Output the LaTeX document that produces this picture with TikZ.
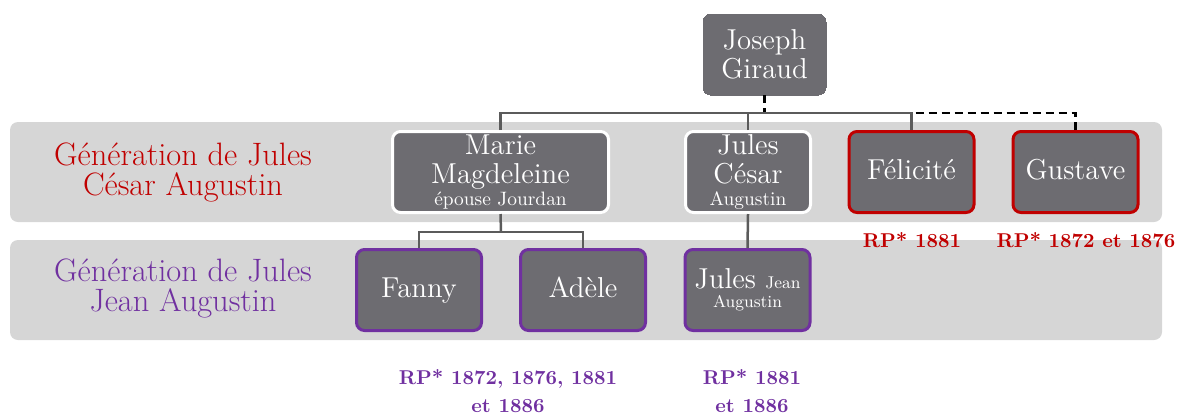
\documentclass[tikz,border=0pt]{standalone}
\usepackage{amsmath}
\usepackage{tikz}

\definecolor{boxgray}{HTML}{6D6C71}
\definecolor{bandgray}{HTML}{D6D6D6}
\definecolor{genred}{HTML}{C00000}
\definecolor{genpurple}{HTML}{7030A0}
\definecolor{linkgray}{HTML}{5B5B5B}

\begin{document}
\begin{tikzpicture}[x=0.5pt,y=-0.5pt,
	person/.style={rectangle, rounded corners=4pt, fill=boxgray, draw=white, line width=1.5pt,
		minimum width=62.5pt, minimum height=40.5pt, inner sep=1pt, align=center, text=white,
		font=\fontsize{14.4}{14.5}\selectfont},
	sibling/.style={person, draw=genred, text height=10pt, text depth=3pt},
	child/.style={person, draw=genpurple},
	oneline/.style={text height=10pt, text depth=3pt},
	gen/.style={align=center, font=\fontsize{16.2}{15}\selectfont},
	rp/.style={align=center, font=\bfseries\fontsize{10}{14}\selectfont},
	link/.style={draw=linkgray, line width=1.25pt},
	maybe/.style={draw=black, line width=1.1pt, dash pattern=on 4pt off 2.5pt}]

	\useasboundingbox (0,0) rectangle (1181,414);

	% Bands
	\fill [bandgray, rounded corners=4pt] (10,122) rectangle (1162,222);
	\fill [bandgray, rounded corners=4pt] (10,240) rectangle (1162,340);
	\node [gen, text=genred] (genjc) at (183,172) {G\'en\'eration de Jules\\C\'esar Augustin};
	\node [gen, text=genpurple] (genjj) at (183,288) {G\'en\'eration de Jules\\Jean Augustin};

	% Persons
	\node [person, draw=boxgray, minimum width=61.5pt, line width=0pt] (joseph) at (764.5,54.5) {Joseph\\Giraud};
	\node [person, minimum width=108pt] (marie) at (500.5,172) {Marie\\Magdeleine\\[-3.5pt]{\fontsize{9.7}{10}\selectfont \'epouse Jourdan}};
	\node [person] (jcesar) at (748,172) {Jules\\C\'esar\\[-3.5pt]{\fontsize{9.7}{10}\selectfont Augustin}};
	\node [sibling] (felicite) at (911.5,172) {F\'elicit\'e};
	\node [sibling] (gustave) at (1075.5,172) {Gustave};
	\node [child, oneline] (fanny) at (419,290) {Fanny};
	\node [child, oneline] (adele) at (583,290) {Ad\`ele};
	\node [child] (jjean) at (747.5,290) {Jules {\fontsize{8.5}{10}\selectfont Jean}\\[-5pt]{\fontsize{8.5}{10}\selectfont Augustin}};

	% Links
	\coordinate (top) at (764.5,113);
	\coordinate (mid) at (501,232);
	\draw [maybe] (joseph.south) -- (top) -| (gustave.north);
	\draw [link] (marie.north) |- (top) -| (felicite.north);
	\draw [link] (jcesar.north) -- (jcesar.north |- top);
	\draw [link] (marie.south) -- (mid);
	\draw [link] (fanny.north) |- (mid) -| (adele.north);
	\draw [link] (jcesar.south) -- (jjean.north);

	% Census
	\node [rp, text=genred] (rpfel) at (912,240) {RP* 1881};
	\node [rp, text=genred] (rpgus) at (1086,240) {RP* 1872 et 1876};
	\node [rp, text=genpurple] (rpfan) at (508,391) {RP* 1872, 1876, 1881\\et 1886};
	\node [rp, text=genpurple] (rpjj) at (752,391) {RP* 1881\\et 1886};

\end{tikzpicture}
\end{document}
